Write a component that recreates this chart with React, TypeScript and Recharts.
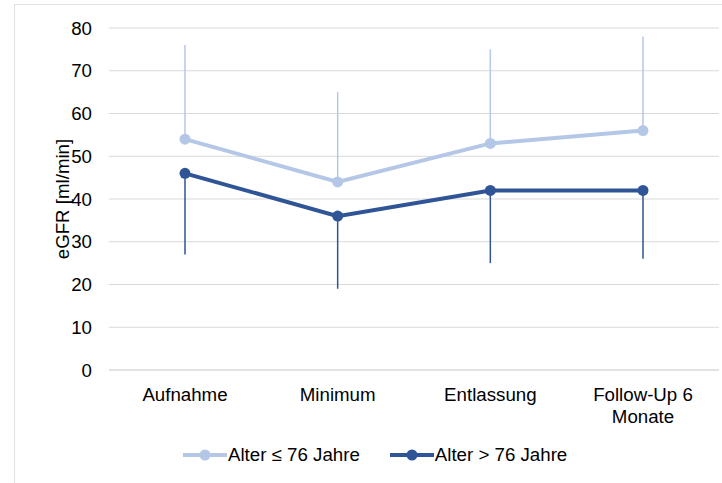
import type { ReactElement } from "react";
import { LineChart, Line, XAxis, YAxis, CartesianGrid, ErrorBar, Text } from "recharts";

// Zeitpunkte der Messung
const zeitpunkte = ["Aufnahme", "Minimum", "Entlassung", "Follow-Up 6 Monate"];

// Mittelwerte eGFR [ml/min]
const jungMittel = [54, 44, 53, 56];
const altMittel = [46, 36, 42, 42];

// Enden der einseitigen Fehlerbalken (jung nach oben, alt nach unten)
const jungOben = [76, 65, 75, 78];
const altUnten = [27, 19, 25, 26];

const yTicks = [0, 10, 20, 30, 40, 50, 60, 70, 80];

const HELL = "#b4c7e7";
const DUNKEL = "#2f5597";
const GRID = "#d9d9d9";
const FONT = "'Liberation Sans', Arial, sans-serif";
const FS = 18.7;

const serien = [
  { key: "jung", name: "Alter ≤ 76 Jahre", color: HELL },
  { key: "alt", name: "Alter > 76 Jahre", color: DUNKEL },
];

const daten = zeitpunkte.map((z, i) => ({
  zeitpunkt: z,
  jung: jungMittel[i],
  jungErr: [0, jungOben[i] - jungMittel[i]],
  alt: altMittel[i],
  altErr: [altMittel[i] - altUnten[i], 0],
}));

// Kategorienbeschriftung mit Zeilenumbruch
function KategorieTick(props: any): ReactElement {
  const { x, y, payload } = props;
  return (
    <Text
      x={x}
      y={y}
      width={120}
      textAnchor="middle"
      verticalAnchor="start"
      lineHeight="1.15em"
      fontSize={FS}
      fontFamily={FONT}
      fill="#000"
    >
      {payload.value}
    </Text>
  );
}

function Legende(): ReactElement {
  return (
    <div
      style={{
        position: "absolute",
        left: 183,
        top: 444,
        height: 22,
        display: "flex",
        alignItems: "center",
        fontFamily: FONT,
        fontSize: FS,
        color: "#000",
      }}
    >
      {serien.map((s) => (
        <div key={s.key} style={{ display: "flex", alignItems: "center", marginRight: 30 }}>
          <svg width={44} height={12}>
            <line x1={0} y1={6} x2={44} y2={6} stroke={s.color} strokeWidth={4} />
            <circle cx={22} cy={6} r={5.5} fill={s.color} />
          </svg>
          <span style={{ marginLeft: 1 }}>{s.name}</span>
        </div>
      ))}
    </div>
  );
}

export default function App(): ReactElement {
  return (
    <div style={{ position: "absolute", left: 0, top: 0, width: 722, height: 483, background: "#fff", overflow: "hidden" }}>
      {/* Rahmen des Diagrammbereichs */}
      <div
        style={{
          position: "absolute",
          left: 14,
          top: 4,
          right: -2,
          bottom: -2,
          borderTop: `1.5px solid #e2e2e2`,
          borderLeft: `1.5px solid #e2e2e2`,
        }}
      />
      <LineChart
        width={722}
        height={483}
        data={daten}
        margin={{ top: 28, right: 3, left: 0, bottom: 53 }}
        style={{ position: "absolute", left: 0, top: 0 }}
      >
        <CartesianGrid vertical={false} stroke={GRID} strokeWidth={1} />
        <XAxis
          dataKey="zeitpunkt"
          height={60}
          padding={{ left: 76, right: 76 }}
          axisLine={{ stroke: GRID }}
          tickLine={false}
          tickSize={0}
          tickMargin={18}
          interval={0}
          tick={<KategorieTick />}
        />
        <YAxis
          width={109}
          domain={[0, 80]}
          ticks={yTicks}
          axisLine={false}
          tickLine={false}
          tickSize={0}
          tickMargin={17}
          tick={{ fontSize: FS, fontFamily: FONT, fill: "#000" }}
          label={{
            content: (p: any) => {
              const vb = p.viewBox;
              const cy = vb.y + vb.height / 2;
              return (
                <text
                  x={62}
                  y={cy}
                  transform={`rotate(-90 62 ${cy})`}
                  textAnchor="middle"
                  dominantBaseline="central"
                  fontSize={FS}
                  fontFamily={FONT}
                  fill="#000"
                >
                  eGFR [ml/min]
                </text>
              );
            },
          }}
        />
        <Line
          dataKey="jung"
          name={serien[0].name}
          stroke={HELL}
          strokeWidth={4}
          dot={{ r: 5.5, fill: HELL, stroke: HELL, strokeWidth: 0 }}
          activeDot={false}
          isAnimationActive={false}
        >
          <ErrorBar dataKey="jungErr" direction="y" width={0} stroke={HELL} strokeWidth={1.5} isAnimationActive={false} />
        </Line>
        <Line
          dataKey="alt"
          name={serien[1].name}
          stroke={DUNKEL}
          strokeWidth={4}
          dot={{ r: 5.5, fill: DUNKEL, stroke: DUNKEL, strokeWidth: 0 }}
          activeDot={false}
          isAnimationActive={false}
        >
          <ErrorBar dataKey="altErr" direction="y" width={0} stroke={DUNKEL} strokeWidth={1.5} isAnimationActive={false} />
        </Line>
      </LineChart>
      <Legende />
    </div>
  );
}
